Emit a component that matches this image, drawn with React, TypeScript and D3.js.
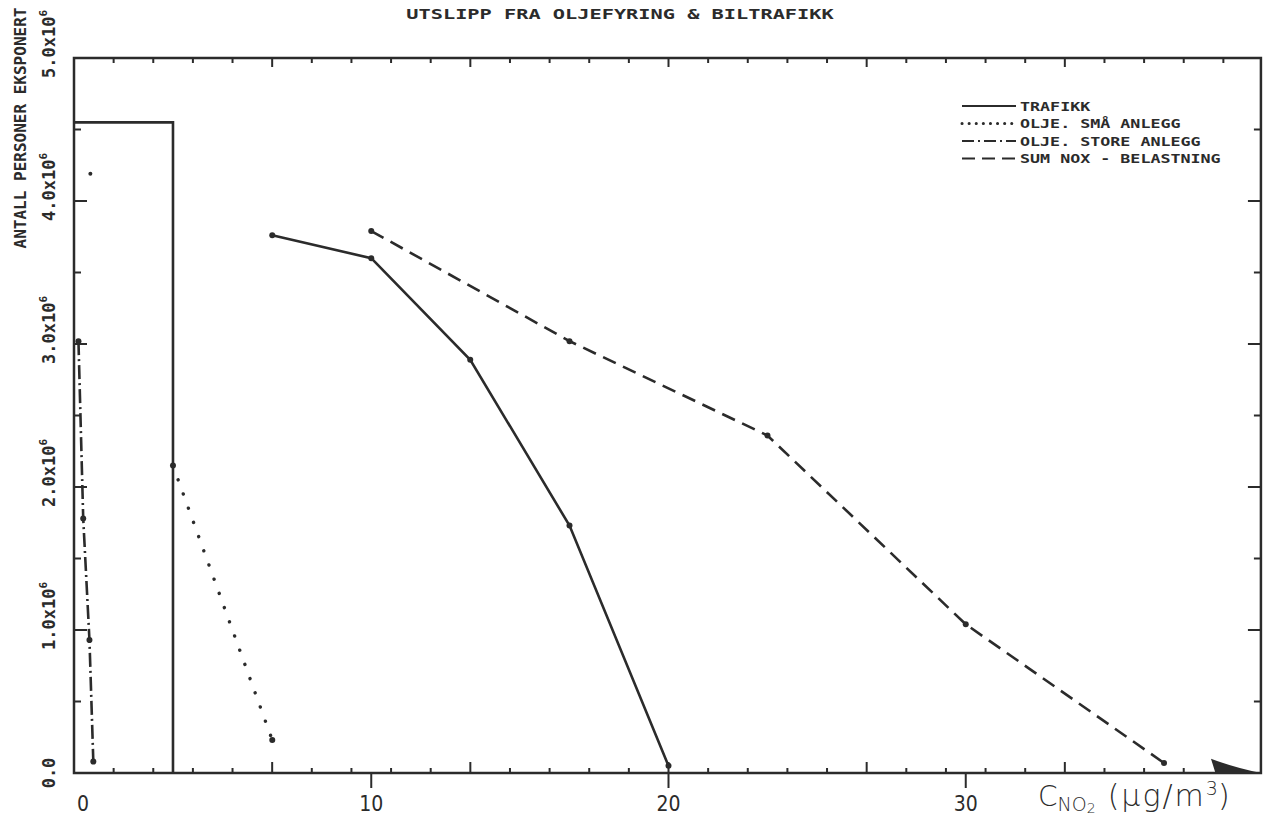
import * as d3 from "d3";
import { useEffect, useRef } from "react";

// values (x in µg/m3, y in persons)
const trafikkBox = [
  { x: 0, y: 4.55e6 },
  { x: 3.33, y: 4.55e6 },
  { x: 3.33, y: 0 },
];
const trafikk = [
  { x: 6.67, y: 3.76e6 },
  { x: 10, y: 3.6e6 },
  { x: 13.33, y: 2.89e6 },
  { x: 16.67, y: 1.73e6 },
  { x: 20, y: 0.05e6 },
];
const smaAnlegg = [
  { x: 3.33, y: 2.15e6 },
  { x: 6.67, y: 0.23e6 },
];
const strayDot = [{ x: 0.55, y: 4.19e6 }];
const storeAnlegg = [
  { x: 0.15, y: 3.02e6 },
  { x: 0.31, y: 1.78e6 },
  { x: 0.52, y: 0.93e6 },
  { x: 0.65, y: 0.08e6 },
];
const sumNox = [
  { x: 10, y: 3.79e6 },
  { x: 16.67, y: 3.02e6 },
  { x: 23.33, y: 2.36e6 },
  { x: 30, y: 1.04e6 },
  { x: 36.67, y: 0.07e6 },
];

const xLabels = ["0", "10", "20", "30"];
const yLabels = ["0.0", "1.0", "2.0", "3.0", "4.0", "5.0"];
const legendItems = [
  { name: "TRAFIKK", dash: null },
  { name: "OLJE. SMÅ ANLEGG", dash: "0.1 7" },
  { name: "OLJE. STORE ANLEGG", dash: "12 4 2 4" },
  { name: "SUM NOX - BELASTNING", dash: "13 7" },
];

const INK = "#2b2b2b";
const MONO = "'DejaVu Sans Mono', monospace";

const App = () => {
  const ref = useRef(null);

  useEffect(() => {
    const svg = d3.select(ref.current);
    const W = 1265;
    const H = 822;

    const x = d3.scaleLinear().domain([0, 40]).range([74, 1263]);
    const y = d3.scaleLinear().domain([0, 5e6]).range([773, 58]);

    svg.append("rect").attr("width", W).attr("height", H).attr("fill", "#fff");

    // frame
    svg
      .append("rect")
      .attr("x", x(0))
      .attr("y", y(5e6))
      .attr("width", x(39.93) - x(0))
      .attr("height", y(0) - y(5e6))
      .attr("fill", "none")
      .attr("stroke", INK)
      .attr("stroke-width", 2.5);

    // x ticks every 4/3 unit, every 5th taller
    const xt = d3.range(1, 30).map((k) => ({ v: (k * 4) / 3, tall: k % 5 === 0 }));
    const tickG = svg.append("g").attr("stroke", INK).attr("stroke-width", 2);
    tickG
      .selectAll(".xb")
      .data(xt)
      .enter()
      .append("line")
      .attr("x1", (d) => x(d.v))
      .attr("x2", (d) => x(d.v))
      .attr("y1", y(0))
      .attr("y2", (d) => y(0) - (d.tall ? 11 : 5));
    tickG
      .selectAll(".xt")
      .data(xt)
      .enter()
      .append("line")
      .attr("x1", (d) => x(d.v))
      .attr("x2", (d) => x(d.v))
      .attr("y1", y(5e6))
      .attr("y2", (d) => y(5e6) + (d.tall ? 9 : 5));
    tickG
      .selectAll(".xd")
      .data([10, 20, 30])
      .enter()
      .append("line")
      .attr("x1", (d) => x(d))
      .attr("x2", (d) => x(d))
      .attr("y1", y(0))
      .attr("y2", y(0) + 15);

    // y ticks every 0.5e6
    const yt = d3.range(1, 10).map((k) => ({ v: k * 0.5e6, major: k % 2 === 0 }));
    tickG
      .selectAll(".yl")
      .data(yt)
      .enter()
      .append("line")
      .attr("x1", x(0))
      .attr("x2", (d) => x(0) + (d.major ? 13 : 7))
      .attr("y1", (d) => y(d.v))
      .attr("y2", (d) => y(d.v));
    tickG
      .selectAll(".yr")
      .data(yt)
      .enter()
      .append("line")
      .attr("x1", x(39.93))
      .attr("x2", (d) => x(39.93) - (d.major ? 13 : 7))
      .attr("y1", (d) => y(d.v))
      .attr("y2", (d) => y(d.v));

    // arrow head on the x axis
    svg
      .append("path")
      .attr(
        "d",
        `M${x(38.25)},${y(0.1e6)} Q${x(39)},${y(0.04e6)} ${x(39.93)},${y(0)} L${x(38.4)},${y(0)} Z`
      )
      .attr("fill", INK);

    const line = d3
      .line()
      .x((d) => x(d.x))
      .y((d) => y(d.y));

    const series = [
      { data: trafikkBox, dash: null, width: 2.6, dots: false },
      { data: trafikk, dash: null, width: 2.6, dots: true },
      { data: smaAnlegg, dash: "0.1 15", width: 3.4, dots: true },
      { data: storeAnlegg, dash: "14 4 2 4", width: 2.6, dots: true },
      { data: sumNox, dash: "14 8", width: 2.6, dots: true },
    ];

    series.forEach((s) => {
      svg
        .append("path")
        .datum(s.data)
        .attr("d", line)
        .attr("fill", "none")
        .attr("stroke", INK)
        .attr("stroke-width", s.width)
        .attr("stroke-linecap", s.dash && s.dash.startsWith("0.1") ? "round" : "butt")
        .attr("stroke-dasharray", s.dash);
      if (s.dots) {
        svg
          .append("g")
          .selectAll("circle")
          .data(s.data)
          .enter()
          .append("circle")
          .attr("cx", (d) => x(d.x))
          .attr("cy", (d) => y(d.y))
          .attr("r", 3)
          .attr("fill", INK);
      }
    });

    svg
      .selectAll(".stray")
      .data(strayDot)
      .enter()
      .append("circle")
      .attr("cx", (d) => x(d.x))
      .attr("cy", (d) => y(d.y))
      .attr("r", 2)
      .attr("fill", INK);

    // title
    svg
      .append("text")
      .attr("transform", "translate(620,19) scale(1.45,1)")
      .attr("text-anchor", "middle")
      .attr("font-family", MONO)
      .attr("font-weight", "bold")
      .attr("font-size", 14)
      .attr("fill", INK)
      .text("UTSLIPP FRA OLJEFYRING & BILTRAFIKK");

    // legend
    const lg = svg.append("g");
    legendItems.forEach((item, i) => {
      const ly = 106 + i * 17.5;
      lg.append("line")
        .attr("x1", 962)
        .attr("x2", 1016)
        .attr("y1", ly)
        .attr("y2", ly)
        .attr("stroke", INK)
        .attr("stroke-width", item.dash && item.dash.startsWith("0.1") ? 3 : 2.2)
        .attr("stroke-linecap", item.dash && item.dash.startsWith("0.1") ? "round" : "butt")
        .attr("stroke-dasharray", item.dash);
      lg.append("text")
        .attr("transform", `translate(1020,${ly + 4.5}) scale(1.45,1)`)
        .attr("font-family", MONO)
        .attr("font-weight", "bold")
        .attr("font-size", 11.5)
        .attr("fill", INK)
        .text(item.name);
    });

    // x labels
    svg
      .append("g")
      .selectAll("text")
      .data(xLabels)
      .enter()
      .append("text")
      .attr("x", (d) => x(+d) + (d === "0" ? 9 : 0))
      .attr("y", 811)
      .attr("text-anchor", "middle")
      .attr("font-family", "'DejaVu Sans Condensed', 'DejaVu Sans', sans-serif")
      .attr("font-weight", 300)
      .attr("font-size", 21)
      .attr("fill", INK)
      .text((d) => d);

    // x axis title
    const xt2 = svg
      .append("text")
      .attr("x", 1038)
      .attr("y", 806)
      .attr("font-family", "'DejaVu Sans', sans-serif")
      .attr("font-weight", 300)
      .attr("font-size", 28)
      .attr("fill", INK);
    xt2.append("tspan").text("C");
    xt2.append("tspan").attr("font-size", 19).attr("dy", 5).text("NO");
    xt2.append("tspan").attr("font-size", 14).attr("dy", 2).text("2");
    xt2
      .append("tspan")
      .attr("dy", -7)
      .attr("dx", 12)
      .attr("font-size", 30)
      .attr("letter-spacing", 2)
      .text("(µg/m");
    xt2.append("tspan").attr("font-size", 19).attr("dy", -11).text("3");
    xt2.append("tspan").attr("font-size", 30).attr("dy", 11).text(")");

    // y labels, rotated
    yLabels.forEach((lab) => {
      const v = +lab * 1e6;
      const t = svg
        .append("text")
        .attr(
          "transform",
          `translate(55,${y(v) + (v === 0 ? 0 : -14)}) rotate(-90)`
        )
        .attr("text-anchor", "middle")
        .attr("font-family", MONO)
        .attr("font-weight", "bold")
        .attr("font-size", 17)
        .attr("fill", INK);
      t.append("tspan").text(v === 0 ? lab : `${lab}x10`);
      if (v !== 0) t.append("tspan").attr("font-size", 11).attr("dy", -8).text("6");
    });

    svg
      .append("text")
      .attr("transform", "translate(26,128) rotate(-90)")
      .attr("text-anchor", "middle")
      .attr("font-family", MONO)
      .attr("font-weight", "bold")
      .attr("font-size", 16)
      .attr("fill", INK)
      .text("ANTALL PERSONER EKSPONERT");

    return () => svg.selectAll("*").remove();
  }, []);

  return (
    <svg
      ref={ref}
      width={1265}
      height={822}
      style={{ position: "absolute", left: 0, top: 0, display: "block" }}
    />
  );
};

export default App;
